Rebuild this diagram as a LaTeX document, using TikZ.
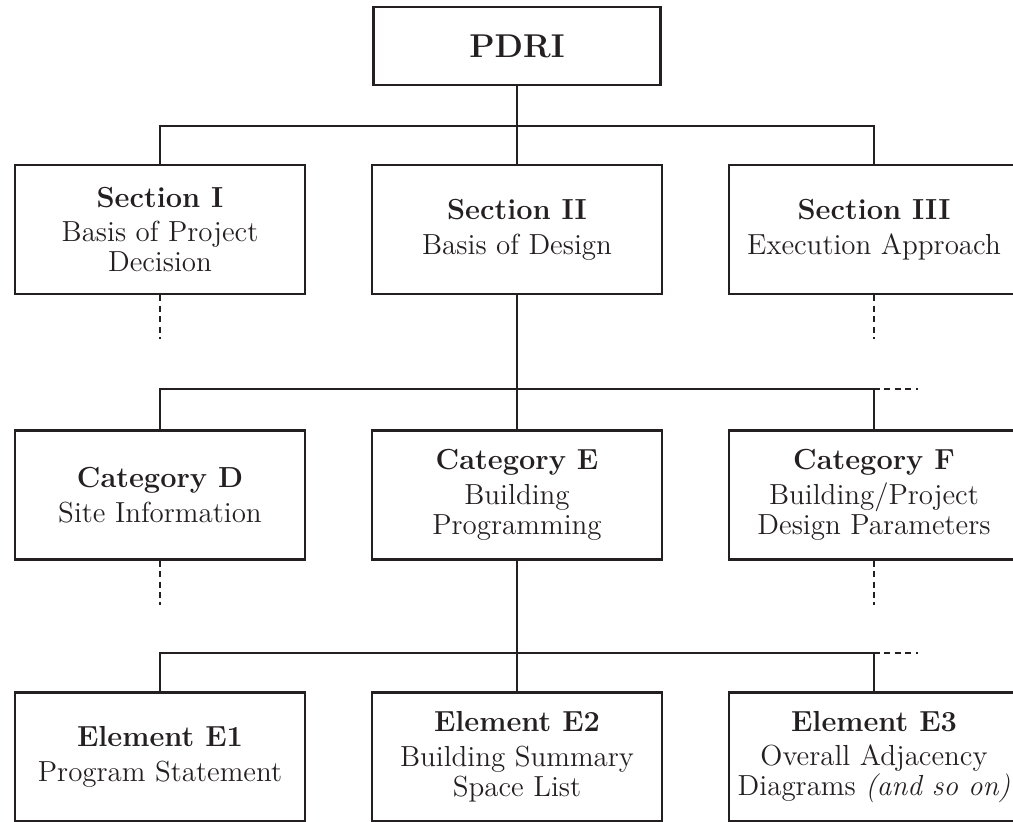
\documentclass[tikz,border=0pt]{standalone}
\definecolor{kInk}{rgb}{0.14,0.12,0.13}

\newcommand\boxhead[1]{\textbf{#1}\\[2.4pt]}

\tikzset{
  box/.style={draw=kInk,line width=1.3pt,minimum width=145pt,minimum height=64.5pt,
              inner sep=0pt,align=center,text=kInk,font=\fontsize{14.5}{15}\selectfont},
  link/.style={draw=kInk,line width=1.3pt},
  stub/.style={draw=kInk,line width=1.3pt,dash pattern=on 3pt off 2.2pt}
}

\begin{document}
\begin{tikzpicture}[x=0.5pt,y=-0.5pt]
  \useasboundingbox (0,0) rectangle (1013,821);
  \clip (0,0) rectangle (1013,821);

  % top box
  \node[box,minimum width=143.5pt,minimum height=39pt,
        font=\fontsize{16.5}{20}\selectfont\bfseries] (pdri) at (517,46) {PDRI};

  % sections
  \node[box] (sec1) at (160,229.5) {\boxhead{Section I}Basis of Project\\Decision};
  \node[box] (sec2) at (517,229.5) {\boxhead{Section II}Basis of Design};
  \node[box] (sec3) at (874,229.5) {\boxhead{Section III}Execution Approach};

  % categories
  \node[box] (catD) at (160,495) {\boxhead{Category D}Site Information};
  \node[box] (catE) at (517,495) {\boxhead{Category E}Building\\Programming};
  \node[box] (catF) at (874,495) {\boxhead{Category F}Building/Project\\Design Parameters};

  % elements
  \node[box] (elE1) at (160,757) {\boxhead{Element E1}Program Statement};
  \node[box] (elE2) at (517,757) {\boxhead{Element E2}Building Summary\\Space List};
  \node[box] (elE3) at (874,757) {\boxhead{Element E3}Overall Adjacency\\Diagrams \textit{(and so on)}};

  % bus lines
  \coordinate (busA) at (517,126);
  \coordinate (busB) at (517,389);
  \coordinate (busC) at (517,653);
  \coordinate (moreB) at (918,389);
  \coordinate (moreC) at (918,653);

  \draw[link] (pdri) -- (busA) -- (sec2);
  \draw[link] (sec1) -- (sec1 |- busA) -- (sec3 |- busA) -- (sec3);

  \draw[link] (sec2) -- (busB) -- (catE);
  \draw[link] (catD) -- (catD |- busB) -- (catF |- busB) -- (catF);
  \draw[stub] (catF |- busB) -- (moreB);

  \draw[link] (catE) -- (busC) -- (elE2);
  \draw[link] (elE1) -- (elE1 |- busC) -- (elE3 |- busC) -- (elE3);
  \draw[stub] (elE3 |- busC) -- (moreC);

  % dotted stubs
  \foreach \n in {sec1,sec3,catD,catF}
    \draw[stub] (\n.south) -- ++(0,44);
\end{tikzpicture}
\end{document}
